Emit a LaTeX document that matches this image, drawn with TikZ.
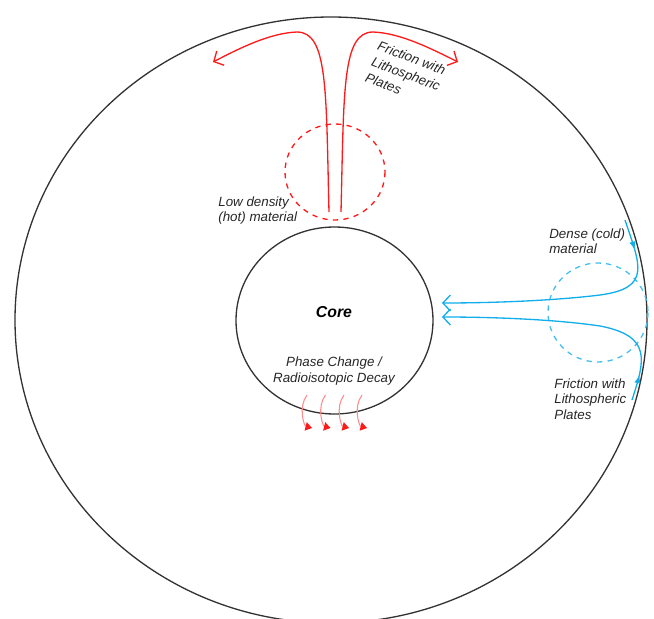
\documentclass[tikz,border=0pt]{standalone}
\usepackage{fontspec}
\setmainfont{Liberation Sans}
\usetikzlibrary{arrows.meta,decorations.markings}
\definecolor{mntink}{HTML}{333333}
\definecolor{mnttext}{HTML}{262626}
\definecolor{mnthot}{HTML}{FF1A1A}
\definecolor{mntwarm}{HTML}{FF8A8A}
\definecolor{mntcold}{HTML}{12ADEB}
\definecolor{mntcoldring}{HTML}{45BFF0}
\tikzset{
  mnt/.style={font=\fontsize{7.6}{9}\selectfont\itshape, text=mnttext},
  mntshell/.style={draw=mntink, line width=0.75pt},
  mntring/.style={dashed, line width=0.75pt},
  mntlbl/.style={inner sep=0pt, align=left, anchor=north west},
  mnthotarr/.style={draw=mnthot, line width=0.75pt,
    -{Straight Barb[length=1.5mm,width=3.2mm]}},
  mntcoldarr/.style={draw=mntcold, line width=0.75pt,
    -{Straight Barb[length=1.5mm,width=3.2mm]},
    postaction={decorate},
    decoration={markings, mark=at position #1 with
      {\arrow[mntcold]{Latex[length=1.6mm,width=1.3mm]}}}},
  mntheat/.style={draw=mntwarm, line width=0.6pt,
    -{Triangle[length=1.3mm,width=1.7mm,fill=mnthot,color=mnthot]}},
}
\begin{document}
\begin{tikzpicture}[mnt, x=0.02cm, y=-0.02cm]
  \useasboundingbox (0,0) rectangle (654,619);
  \clip (0,0) rectangle (654,619);
  % mantle and core
  \draw[mntshell] (331,320) ellipse [x radius=316, y radius=303];
  \draw[mntshell] (334.5,320.5) ellipse [x radius=98.5, y radius=93.5];
  \node[font=\fontsize{9}{11}\selectfont\bfseries\itshape, text=black] (core) at (334,312) {Core};
  \node[align=center, inner sep=0pt] (decay) at (334,371) {Phase Change /\\Radioisotopic Decay};
  % heat leaving the core
  \foreach \hx in {307,325.5,344,362}
    \draw[mntheat] (\hx,395) .. controls ({\hx-9},407) and ({\hx-3},426) .. ({\hx+5},428);
  % hot plume
  \draw[mntring, draw=mnthot] (335,172) ellipse [x radius=50, y radius=48];
  \draw[mnthotarr] (329,212) .. controls (326,90) and (328,32) .. (297,32)
    .. controls (270,33) and (240,48) .. (213,62);
  \draw[mnthotarr] (341,212) .. controls (344,90) and (342,32) .. (373,32)
    .. controls (400,33) and (430,48) .. (458,62);
  \node[mntlbl] (hotlbl) at (218,196) {Low density\\(hot) material};
  \node[mntlbl, rotate=-21, font=\fontsize{7.6}{9.8}\selectfont\itshape]
    (hotfric) at (380,40) {Friction with\\Lithospheric\\Plates};
  % cold slab
  \draw[mntring, draw=mntcoldring] (598,312.5) ellipse [x radius=50, y radius=49.5];
  \draw[mntcoldarr=0.12] (625,220) .. controls (640,265) and (652,288) .. (600,295)
    .. controls (560,300) and (500,303) .. (442,303);
  \draw[mntcoldarr=0.1] (632,400) .. controls (645,360) and (652,336) .. (600,326)
    .. controls (560,320) and (500,317) .. (442,317);
  \node[mntlbl] (coldlbl) at (549,228) {Dense (cold)\\material};
  \node[mntlbl] (coldfric) at (554,378) {Friction with\\Lithospheric\\Plates};
\end{tikzpicture}
\end{document}
